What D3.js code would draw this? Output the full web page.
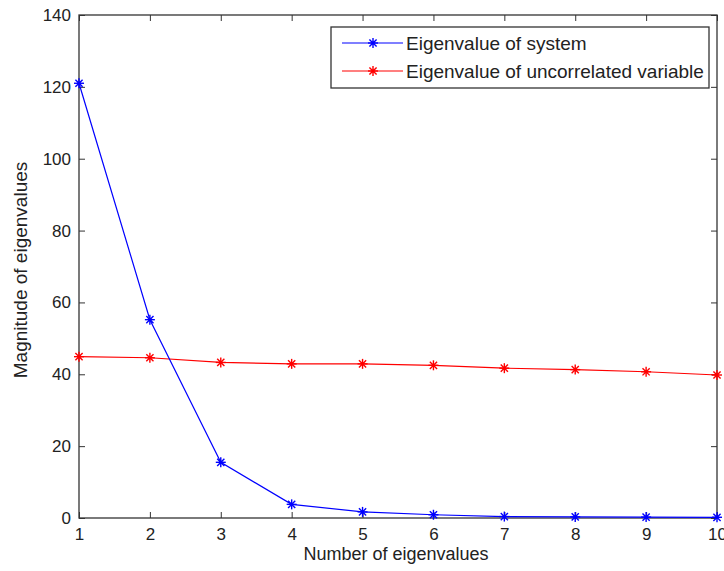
<!DOCTYPE html>
<html>
<head>
<meta charset="utf-8">
<script src="https://cdn.jsdelivr.net/npm/d3@7"></script>
<style>
  html, body { margin: 0; padding: 0; background: #fff; }
  svg text { font-family: "Liberation Sans", Arial, Helvetica, sans-serif; fill: #222; }
</style>
</head>
<body>
<svg id="chart" width="724" height="571"></svg>
<script>
// Eigenvalue index on the x axis
const eigenIndex = [1, 2, 3, 4, 5, 6, 7, 8, 9, 10];
// Eigenvalues of the system
const systemValues = [121, 55.2, 15.5, 3.8, 1.7, 0.9, 0.4, 0.3, 0.25, 0.2];
// Eigenvalues of the uncorrelated variable
const uncorrelatedValues = [44.9, 44.6, 43.3, 42.9, 42.9, 42.5, 41.7, 41.3, 40.7, 39.8];
const xTicks = [1, 2, 3, 4, 5, 6, 7, 8, 9, 10];
const yTicks = [0, 20, 40, 60, 80, 100, 120, 140];
const seriesNames = ["Eigenvalue of system", "Eigenvalue of uncorrelated variable"];
const seriesColors = ["#0000ff", "#ff0000"];

const svg = d3.select("#chart");
const plotLeft = 79, plotRight = 717, plotTop = 15, plotBottom = 518;

const x = d3.scaleLinear().domain([1, 10]).range([plotLeft, plotRight]);
const y = d3.scaleLinear().domain([0, 140]).range([plotBottom, plotTop]);

// Frame
svg.append("rect")
  .attr("x", plotLeft).attr("y", plotTop)
  .attr("width", plotRight - plotLeft).attr("height", plotBottom - plotTop)
  .attr("fill", "#fff").attr("stroke", "#333").attr("stroke-width", 1.3);

const tickLen = 6;
const tickFont = 17;

// Bottom axis with inward ticks
const xAxis = svg.append("g").attr("transform", `translate(0,${plotBottom})`)
  .call(d3.axisBottom(x).tickValues(xTicks).tickFormat(d3.format("d")).tickSizeInner(-tickLen).tickSizeOuter(0).tickPadding(10));
xAxis.select(".domain").remove();
xAxis.selectAll("line").attr("stroke", "#333");
xAxis.selectAll("text").attr("font-size", tickFont).attr("fill", "#222")
  .style("font-family", "'Liberation Sans', Arial, sans-serif");

// Top axis ticks only
const xTopAxis = svg.append("g").attr("transform", `translate(0,${plotTop})`)
  .call(d3.axisTop(x).tickValues(xTicks).tickFormat("").tickSizeInner(-tickLen).tickSizeOuter(0));
xTopAxis.select(".domain").remove();
xTopAxis.selectAll("line").attr("stroke", "#333");

// Left axis with inward ticks
const yAxis = svg.append("g").attr("transform", `translate(${plotLeft},0)`)
  .call(d3.axisLeft(y).tickValues(yTicks).tickFormat(d3.format("d")).tickSizeInner(-tickLen).tickSizeOuter(0).tickPadding(8));
yAxis.select(".domain").remove();
yAxis.selectAll("line").attr("stroke", "#333");
yAxis.selectAll("text").attr("font-size", tickFont).attr("fill", "#222")
  .style("font-family", "'Liberation Sans', Arial, sans-serif");

// Right axis ticks only
const yRightAxis = svg.append("g").attr("transform", `translate(${plotRight},0)`)
  .call(d3.axisRight(y).tickValues(yTicks).tickFormat("").tickSizeInner(-tickLen).tickSizeOuter(0));
yRightAxis.select(".domain").remove();
yRightAxis.selectAll("line").attr("stroke", "#333");

// Axis titles
svg.append("text")
  .attr("x", 396).attr("y", 560)
  .attr("text-anchor", "middle").attr("font-size", 18)
  .text("Number of eigenvalues");
svg.append("text")
  .attr("transform", `translate(27,270) rotate(-90)`)
  .attr("text-anchor", "middle").attr("font-size", 19)
  .text("Magnitude of eigenvalues");

// Asterisk marker
function star(g, cx, cy, color, r) {
  const s = g.append("g").attr("transform", `translate(${cx},${cy})`)
    .attr("stroke", color).attr("stroke-width", 1.4);
  s.append("line").attr("x1", 0).attr("y1", -r).attr("x2", 0).attr("y2", r);
  s.append("line").attr("x1", -r).attr("y1", 0).attr("x2", r).attr("y2", 0);
  const d = r * 0.72;
  s.append("line").attr("x1", -d).attr("y1", -d).attr("x2", d).attr("y2", d);
  s.append("line").attr("x1", -d).attr("y1", d).attr("x2", d).attr("y2", -d);
  s.append("circle").attr("r", 1.8).attr("fill", color).attr("stroke", "none");
}

const line = d3.line().x(d => x(d[0])).y(d => y(d[1]));
const plotG = svg.append("g");
// uncorrelated series first, system series drawn over it
[1, 0].forEach(i => {
  const vals = i === 0 ? systemValues : uncorrelatedValues;
  const pts = eigenIndex.map((k, j) => [k, vals[j]]);
  plotG.append("path").datum(pts)
    .attr("d", line).attr("fill", "none")
    .attr("stroke", seriesColors[i]).attr("stroke-width", 1.2);
  pts.forEach(p => star(plotG, x(p[0]), y(p[1]), seriesColors[i], 5));
});

// Legend
const lg = svg.append("g");
lg.append("rect").attr("x", 331).attr("y", 27).attr("width", 378).attr("height", 61)
  .attr("fill", "#fff").attr("stroke", "#333").attr("stroke-width", 1.3);
seriesNames.forEach((name, i) => {
  const ly = 43 + i * 28;
  lg.append("line").attr("x1", 342).attr("x2", 403).attr("y1", ly).attr("y2", ly)
    .attr("stroke", seriesColors[i]).attr("stroke-width", 1.2);
  star(lg, 373, ly, seriesColors[i], 5);
  lg.append("text").attr("x", 406).attr("y", ly + 7).attr("font-size", 19).text(name);
});
</script>
</body>
</html>
